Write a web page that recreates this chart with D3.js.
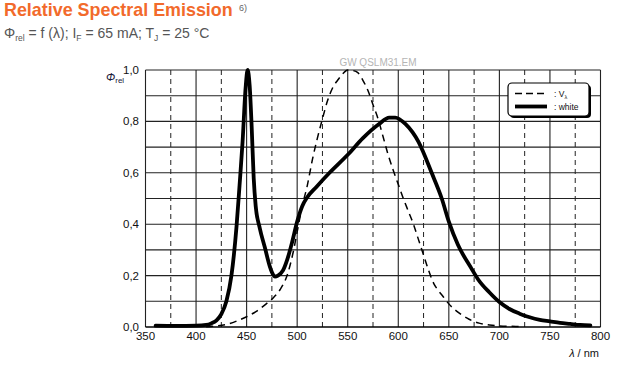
<!DOCTYPE html>
<html><head><meta charset="utf-8">
<script src="https://cdn.jsdelivr.net/npm/d3@7"></script>
<style>
body{margin:0;background:#fff;}
svg{display:block;font-family:"Liberation Sans",Arial,sans-serif;}
</style></head>
<body><svg id="c" width="621" height="365"></svg>
<script>
// ---- data ----
const whiteLambda = [360,380,400,410,415,420,425,430,435,440,443,446,449,451,453,455,457,459,463,468,473,476,478,481,486,490,495,500,505,510,519,532,550,565,581,591,597,607,620,633,643,650,659,672,679,690,700,710,720,730,740,750,760,770,780,790];
const whiteValue  = [0.005,0.004,0.005,0.008,0.014,0.025,0.05,0.1,0.2,0.39,0.55,0.72,0.93,1.0,0.94,0.78,0.58,0.47,0.385,0.31,0.235,0.205,0.196,0.2,0.22,0.26,0.33,0.41,0.47,0.505,0.545,0.6,0.67,0.735,0.79,0.815,0.815,0.79,0.72,0.6,0.5,0.41,0.32,0.23,0.185,0.135,0.097,0.07,0.052,0.038,0.028,0.022,0.016,0.012,0.008,0.006];
const vLambda = [410,420,430,440,450,460,470,476,483,490,496,500,505,510,515,520,525,530,535,540,545,550,555,560,565,570,575,580,585,590,595,600,605,610,615,620,625,630,635,640,645,650,660,670,680,690,700,720];
const vValue  = [0.001,0.004,0.01,0.023,0.04,0.062,0.092,0.112,0.145,0.2,0.29,0.37,0.47,0.55,0.65,0.735,0.81,0.88,0.93,0.96,0.985,1.0,0.998,0.99,0.96,0.92,0.865,0.81,0.74,0.67,0.61,0.555,0.5,0.45,0.4,0.34,0.28,0.22,0.17,0.14,0.115,0.09,0.055,0.03,0.015,0.008,0.004,0.002];
const xTicks = [350,400,450,500,550,600,650,700,750,800];
const xMinor = [375,425,475,525,575,625,675,725,775];
const yTicks = [0,0.2,0.4,0.6,0.8,1.0];
const yGrid  = [0.1,0.2,0.3,0.4,0.5,0.6,0.7,0.8,0.9,1.0];

const svg = d3.select("#c");
const x = d3.scaleLinear().domain([350,800]).range([145.5,600.5]);
const y = d3.scaleLinear().domain([0,1]).range([327,70]);
const fmt = d => d3.format(".1f")(d).replace(".", ",");

// title
svg.append("text").attr("x",4).attr("y",16).attr("fill","#f26a2b")
  .style("font-weight","bold").style("font-size","17.9px").text("Relative Spectral Emission");
svg.append("text").attr("x",239).attr("y",11).attr("fill","#666").style("font-size","9px").text("6)");
const st = svg.append("text").attr("x",4).attr("y",38).attr("fill","#555").style("font-size","14px");
st.append("tspan").text("Φ");
st.append("tspan").attr("dy",3).style("font-size","8.5px").text("rel");
st.append("tspan").attr("dy",-3).text(" = f (λ); I");
st.append("tspan").attr("dy",3).style("font-size","8.5px").text("F");
st.append("tspan").attr("dy",-3).text(" = 65 mA; T");
st.append("tspan").attr("dy",3).style("font-size","8.5px").text("J");
st.append("tspan").attr("dy",-3).text(" = 25 °C");

// grid
const g = svg.append("g");
g.selectAll(".ym").data(yGrid).join("line")
  .attr("x1",x(350)).attr("x2",x(800)).attr("y1",d=>y(d)).attr("y2",d=>y(d))
  .attr("stroke","#222").attr("stroke-width",1.1);
g.selectAll(".xm").data(xMinor).join("line")
  .attr("x1",d=>x(d)).attr("x2",d=>x(d)).attr("y1",y(0)).attr("y2",y(1))
  .attr("stroke","#222").attr("stroke-width",1).attr("stroke-dasharray","5,4");
g.selectAll(".xM").data(xTicks).join("line")
  .attr("x1",d=>x(d)).attr("x2",d=>x(d)).attr("y1",y(0)).attr("y2",y(1))
  .attr("stroke","#222").attr("stroke-width",1.1);
g.append("line").attr("x1",x(350)).attr("x2",x(800)).attr("y1",y(0)).attr("y2",y(0))
  .attr("stroke","#000").attr("stroke-width",1.5);

// watermark
svg.append("text").attr("x",378).attr("y",66).attr("text-anchor","middle")
  .attr("fill","#b5b5b5").style("font-size","10px").text("GW QSLM31.EM");

// axes labels
svg.append("g").selectAll("text").data(yTicks).join("text")
  .attr("x",139).attr("y",d=>y(d)+4).attr("text-anchor","end")
  .attr("fill","#111").style("font-size","11.5px").text(fmt);
svg.append("g").selectAll("text").data(xTicks).join("text")
  .attr("x",d=>x(d)).attr("y",340).attr("text-anchor","middle")
  .attr("fill","#111").style("font-size","11.5px").text(d=>d);
const yl = svg.append("text").attr("x",106).attr("y",81).attr("fill","#1a1a3a").style("font-size","11px");
yl.append("tspan").style("font-style","italic").text("Φ");
yl.append("tspan").attr("dy",2).style("font-size","8px").text("rel");
const xl = svg.append("text").attr("x",599).attr("y",357).attr("text-anchor","end").attr("fill","#111").style("font-size","11px");
xl.append("tspan").style("font-style","italic").text("λ");
xl.append("tspan").text(" / nm");

// curves
const line = d3.line().x(d=>x(d[0])).y(d=>y(d[1])).curve(d3.curveMonotoneX);
svg.append("path").datum(d3.zip(vLambda,vValue)).attr("d",line)
  .attr("fill","none").attr("stroke","#000").attr("stroke-width",1.5).attr("stroke-dasharray","7,5");
svg.append("path").datum(d3.zip(whiteLambda,whiteValue)).attr("d",line)
  .attr("fill","none").attr("stroke","#000").attr("stroke-width",3.8).attr("stroke-linejoin","round").attr("stroke-linecap","round");

// legend
const lg = svg.append("g");
lg.append("rect").attr("x",510).attr("y",85).attr("width",81).attr("height",33).attr("rx",4).attr("fill","#000");
lg.append("rect").attr("x",508).attr("y",83).attr("width",81).attr("height",33).attr("rx",4)
  .attr("fill","#fff").attr("stroke","#000").attr("stroke-width",1.2);
lg.append("line").attr("x1",515).attr("x2",547).attr("y1",93.5).attr("y2",93.5)
  .attr("stroke","#000").attr("stroke-width",1.5).attr("stroke-dasharray","7,4");
lg.append("line").attr("x1",515).attr("x2",547).attr("y1",106.5).attr("y2",106.5)
  .attr("stroke","#000").attr("stroke-width",3.8);
const l1 = lg.append("text").attr("x",554).attr("y",96.5).style("font-size","8.5px").attr("fill","#111");
l1.append("tspan").text(": V");
l1.append("tspan").attr("dy",2).style("font-size","5.5px").text("λ");
lg.append("text").attr("x",554).attr("y",109.5).style("font-size","8.5px").attr("fill","#111").text(": white");
</script></body></html>
